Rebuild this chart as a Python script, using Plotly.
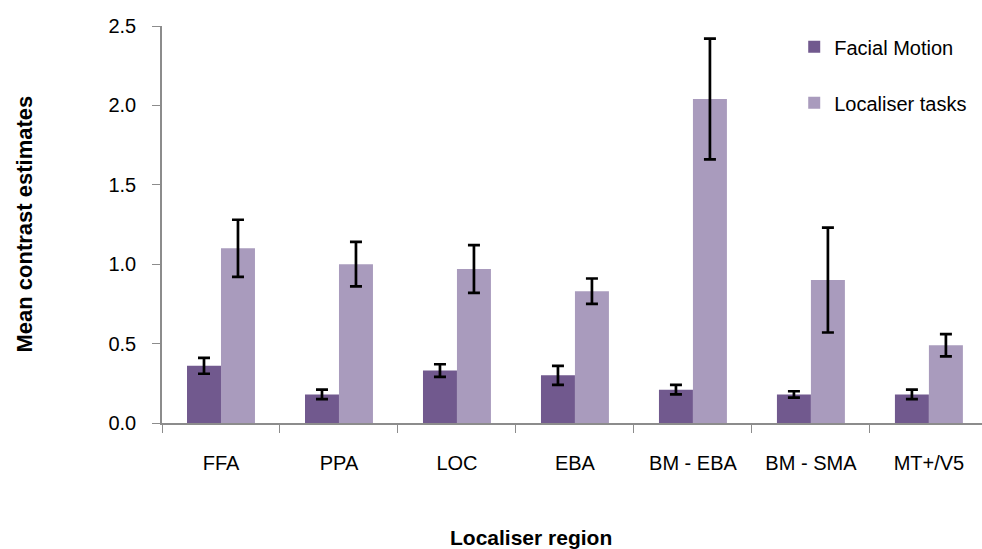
import plotly.graph_objects as go

categories = ["FFA", "PPA", "LOC", "EBA", "BM - EBA", "BM - SMA", "MT+/V5"]
facial_motion = [0.36, 0.18, 0.33, 0.30, 0.21, 0.18, 0.18]
facial_err = [0.05, 0.03, 0.04, 0.06, 0.03, 0.02, 0.03]
localiser = [1.10, 1.00, 0.97, 0.83, 2.04, 0.90, 0.49]
localiser_err = [0.18, 0.14, 0.15, 0.08, 0.38, 0.33, 0.07]
y_ticks = [0, 0.5, 1.0, 1.5, 2.0, 2.5]

FONT = "Liberation Sans Narrow, Arial Narrow, Liberation Sans, Arial, sans-serif"

fig = go.Figure()
fig.add_trace(go.Bar(
    x=categories, y=facial_motion, name="Facial Motion",
    marker=dict(color="#71598E", line=dict(width=0)),
    error_y=dict(type="data", array=facial_err, color="black", thickness=2.7, width=6),
    legendgroup="a",
))
fig.add_trace(go.Bar(
    x=categories, y=localiser, name="Localiser tasks",
    marker=dict(color="#A99BBD", line=dict(width=0)),
    error_y=dict(type="data", array=localiser_err, color="black", thickness=2.7, width=6),
    legendgroup="b",
))

PL, PT, PW, PH = 162, 26, 820, 397

fig.update_layout(
    width=982, height=549,
    margin=dict(l=PL, r=982 - PL - PW, t=PT, b=549 - PT - PH, autoexpand=False),
    paper_bgcolor="white", plot_bgcolor="white",
    font=dict(family=FONT, size=20, color="black"),
    barmode="group", bargap=0.424, bargroupgap=0,
    showlegend=True,
    legend=dict(x=0.771, y=0.997, xanchor="left", yanchor="top",
                bgcolor="rgba(0,0,0,0)", tracegroupgap=27,
                traceorder="grouped", font=dict(size=20, family=FONT)),
    xaxis=dict(range=[-0.5, 6.45], showline=True, linecolor="#8c8c8c", linewidth=1.5,
               ticks="outside", tickson="boundaries", ticklen=8, tickcolor="#8c8c8c",
               ticklabelstandoff=21, automargin=False,
               tickfont=dict(size=20, family=FONT), showgrid=False, zeroline=False),
    yaxis=dict(range=[0, 2.5], tickvals=y_ticks, tickformat=".1f",
               showline=True, linecolor="#8c8c8c", linewidth=1.5,
               ticks="outside", ticklen=8, tickcolor="#8c8c8c",
               ticklabelstandoff=12, automargin=False,
               tickfont=dict(size=20, family=FONT), showgrid=False, zeroline=False),
    annotations=[
        dict(text="<b>Mean contrast estimates</b>", xref="paper", yref="paper",
             x=(24 - PL) / PW, y=0.5, xanchor="center", yanchor="middle",
             textangle=-90, showarrow=False,
             font=dict(size=22, family=FONT)),
        dict(text="<b>Localiser region</b>", xref="paper", yref="paper",
             x=(531 - PL) / PW, y=(PT + PH - 537) / PH, xanchor="center", yanchor="middle",
             showarrow=False,
             font=dict(size=21, family=FONT)),
    ],
)

fig.write_html(
    "out.html",
    config={"displayModeBar": False},
    post_script="document.body.style.margin='0';document.body.style.overflow='hidden';",
)
